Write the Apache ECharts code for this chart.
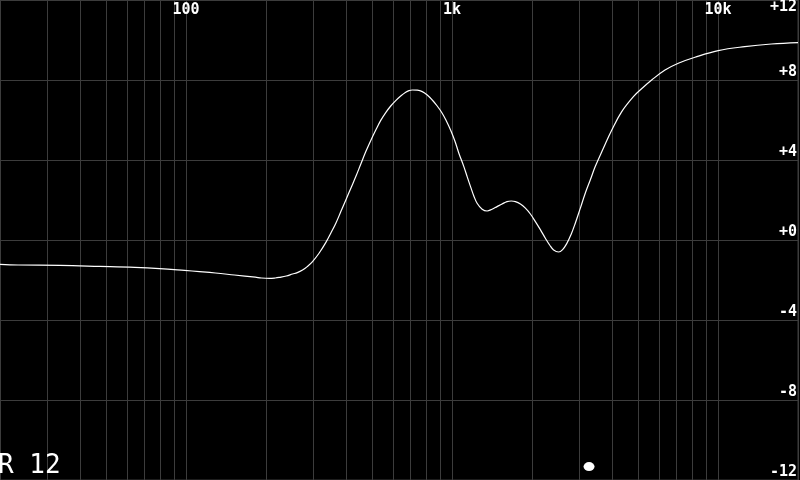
<!DOCTYPE html>
<html><head><meta charset="utf-8">
<script src="https://cdn.jsdelivr.net/npm/echarts@6/dist/echarts.min.js"></script>
<style>html,body{margin:0;padding:0;background:#000;overflow:hidden}#c{width:800px;height:480px}</style>
</head><body><div id="c"></div>
<script>
// Frequency response curve (Hz, dB)
const freqs = [20, 23.4, 33.6, 47.4, 64.2, 79.6, 98.8, 112.5, 129.1, 152.1, 182.4, 192.1, 205.9, 216.8, 224.4, 238.4, 251.7, 262.2, 274.4, 285.8, 299.2, 317.0, 335.9, 350.7, 366.1, 382.3, 399.2, 416.9, 435.2, 454.5, 474.6, 495.4, 517.3, 540.0, 563.9, 588.8, 614.8, 641.9, 670.2, 689.6, 709.5, 740.6, 773.5, 807.6, 843.4, 880.4, 919.2, 953.1, 988.3, 1025.9, 1061.8, 1108.7, 1140.8, 1174.7, 1208.7, 1243.5, 1298.8, 1355.7, 1415.6, 1478, 1543.0, 1611.3, 1670.7, 1732.6, 1809.0, 1888.8, 1972.2, 2059.4, 2149.9, 2245, 2329.6, 2411.8, 2518.2, 2606.6, 2704.3, 2805.3, 2908.9, 3037.2, 3171.3, 3311.8, 3457.3, 3713, 3990, 4349, 4811, 5200.7, 5635, 6326, 7097, 8197, 10024, 12622, 15883, 20000];
const gains = [-1.22, -1.25, -1.27, -1.32, -1.37, -1.43, -1.52, -1.58, -1.65, -1.75, -1.86, -1.90, -1.92, -1.90, -1.87, -1.80, -1.70, -1.63, -1.50, -1.33, -1.08, -0.65, -0.12, 0.35, 0.84, 1.42, 2.0, 2.59, 3.17, 3.8, 4.42, 4.98, 5.5, 5.98, 6.37, 6.7, 6.97, 7.2, 7.39, 7.47, 7.5, 7.49, 7.42, 7.25, 7.0, 6.7, 6.34, 5.95, 5.5, 4.95, 4.34, 3.67, 3.17, 2.67, 2.2, 1.84, 1.54, 1.45, 1.54, 1.67, 1.8, 1.92, 1.95, 1.92, 1.8, 1.59, 1.3, 0.92, 0.52, 0.09, -0.25, -0.5, -0.6, -0.48, -0.17, 0.28, 0.84, 1.58, 2.34, 3.0, 3.67, 4.6, 5.5, 6.42, 7.17, 7.6, 8.0, 8.5, 8.84, 9.14, 9.47, 9.67, 9.8, 9.87];
// Marker dot
const markerFreqs = [3277];
const markerGains = [-11.33];
// Axes
const gridFreqs = [20, 30, 40, 50, 60, 70, 80, 90, 100, 200, 300, 400, 500, 600, 700, 800, 900, 1000, 2000, 3000, 4000, 5000, 6000, 7000, 8000, 9000, 10000, 20000];
const labelFreqs = [100, 1000, 10000];
const labelTexts = ['100', '1k', '10k'];
const yTicks = [-12, -8, -4, 0, 4, 8, 12];
const yTickLabels = ['-12', '-8', '-4', '+0', '+4', '+8', '+12'];
const channelLabel = 'R 12';

const chart = echarts.init(document.getElementById('c'), null, {renderer: 'canvas'});
const gridColor = '#3c3c3c';
const font = 'DejaVu Sans Mono';
chart.setOption({
  backgroundColor: '#000',
  animation: false,
  title: {
    text: channelLabel, left: -2, top: 453, padding: 0,
    textStyle: {color: '#fff', fontFamily: font, fontSize: 26, fontWeight: 'normal'}
  },
  grid: {left: 0, right: 0, top: 0, bottom: 0, show: true, borderColor: gridColor, borderWidth: 1},
  xAxis: {
    type: 'log', logBase: 10, min: 20, max: 20000, position: 'top',
    axisLine: {show: false},
    axisTick: {show: false, customValues: gridFreqs},
    splitLine: {show: true, lineStyle: {color: gridColor, width: 1}},
    axisLabel: {
      inside: true, margin: 3, customValues: labelFreqs,
      color: '#fff', fontFamily: font, fontSize: 15, fontWeight: 'bold',
      formatter: v => { const i = labelFreqs.findIndex(f => Math.abs(f - v) < 1e-6 * f); return i >= 0 ? labelTexts[i] : ''; }
    }
  },
  yAxis: {
    type: 'value', min: -12, max: 12, interval: 4, position: 'right',
    axisLine: {show: false}, axisTick: {show: false},
    splitLine: {show: true, lineStyle: {color: gridColor, width: 1}},
    axisLabel: {
      inside: true, margin: 1, verticalAlign: 'bottom', verticalAlignMaxLabel: 'top',
      color: '#fff', fontFamily: font, fontSize: 15, fontWeight: 'bold',
      formatter: v => { const i = yTicks.indexOf(v); return i >= 0 ? yTickLabels[i] : ''; }
    }
  },
  series: [
    {
      type: 'line', data: freqs.map((f, i) => [f, gains[i]]),
      showSymbol: false, smooth: 0.4,
      lineStyle: {color: '#fff', width: 1.2}
    },
    {
      type: 'scatter', data: markerFreqs.map((f, i) => [f, markerGains[i]]),
      symbol: 'circle', symbolSize: [11, 9],
      itemStyle: {color: '#fff', opacity: 1}
    }
  ]
});
</script>
</body></html>
